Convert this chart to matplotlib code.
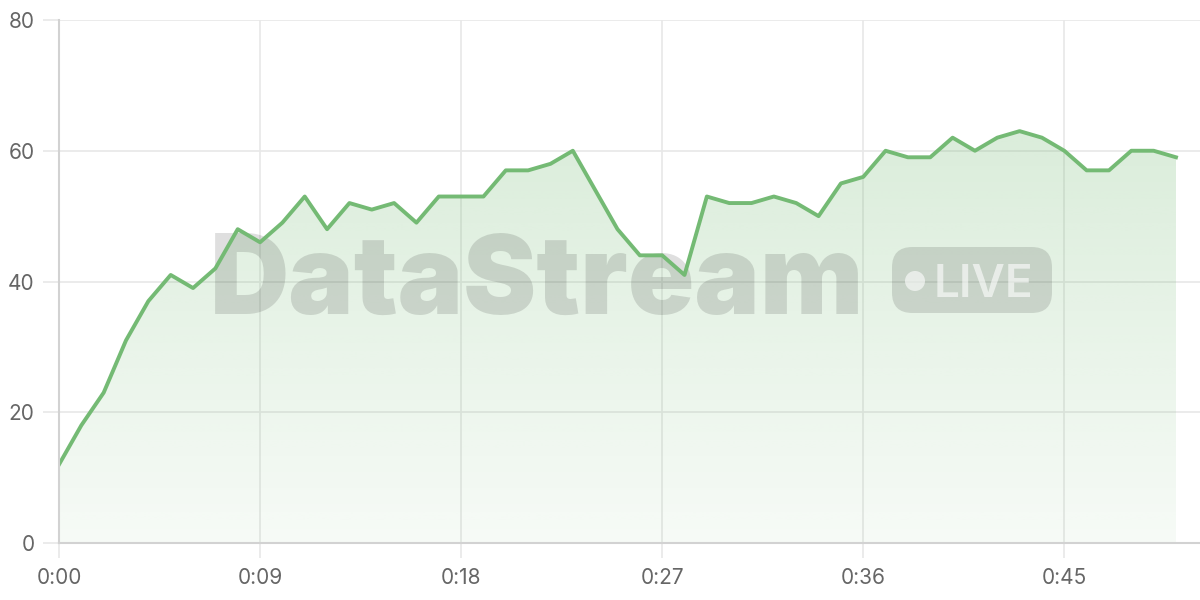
import matplotlib.pyplot as plt
import numpy as np
from matplotlib.patches import FancyBboxPatch, Circle

# seconds since start and the streamed value
seconds = list(range(51))
values = [12, 18, 23, 31, 37, 41, 39, 42, 48, 46, 49,
          53, 48, 52, 51, 52, 49, 53, 53, 53, 57,
          57, 58, 60, 54, 48, 44, 44, 41, 53, 52,
          52, 53, 52, 50, 55, 56, 60, 59, 59, 62,
          60, 62, 63, 62, 60, 57, 57, 60, 60, 59]
x_ticks = [0, 9, 18, 27, 36, 45]
y_ticks = [0, 20, 40, 60, 80]

LINE = "#74ba74"
W, H = 1200, 600


def fmt_time(s):
    return f"{s // 60}:{s % 60:02d}"


def main():
    plt.rcParams["font.family"] = ["Inter", "DejaVu Sans"]
    fig = plt.figure(figsize=(W / 100, H / 100), dpi=100)
    ax = fig.add_axes([59 / W, 57 / H, (W - 59) / W, (543 - 20) / H])

    x = np.array(seconds)
    y = np.array(values)
    ax.set_xlim(0, (W - 59) / (1117 / 50))
    ax.set_ylim(0, 80)

    # gradient fill under the line
    poly = ax.fill_between(x, y, 0, color="none", lw=0)
    top = y.max()
    ny = 256
    grad = np.zeros((ny, 2, 4))
    grad[..., :3] = np.array([114, 185, 114]) / 255
    grad[..., 3] = np.linspace(0.26, 0.06, ny)[:, None]
    im = ax.imshow(grad, extent=[x.min(), x.max(), 0, top], aspect="auto",
                   origin="upper", zorder=1, interpolation="bilinear")
    im.set_clip_path(poly.get_paths()[0], transform=ax.transData)

    ax.plot(x, y, color=LINE, lw=2.8, zorder=4)

    # grid / axes styling
    ax.set_xticks(x_ticks)
    ax.set_xticklabels([fmt_time(s) for s in x_ticks])
    ax.set_yticks(y_ticks)
    ax.grid(True, color="#e8e8e8", lw=1.2, zorder=0)
    ax.set_axisbelow(True)
    for side in ["top", "right"]:
        ax.spines[side].set_visible(False)
    for side in ["left", "bottom"]:
        ax.spines[side].set_color("#d2d2d2")
        ax.spines[side].set_linewidth(1.5)
        ax.spines[side].set_zorder(5)
    ax.tick_params(axis="y", length=11.5, width=1.2, color="#e8e8e8",
                   pad=6, labelsize=15, labelcolor="#666666")
    ax.tick_params(axis="x", length=11, width=1.2, color="#e8e8e8",
                   pad=7, labelsize=15, labelcolor="#666666")

    # watermark, drawn between the fill and the line
    tf = fig.transFigure
    ax.text(210 / W, 1 - 314 / H, "DataStream", transform=tf, fontsize=79,
            fontweight=900, color="black", alpha=0.125,
            ha="left", va="baseline", zorder=3, clip_on=False)
    pill = FancyBboxPatch((892 / W, 1 - 313 / H), 160 / W, 66 / H,
                          boxstyle="round,pad=0,rounding_size=0.017",
                          transform=tf, facecolor="black", edgecolor="none",
                          alpha=0.125, zorder=3, mutation_aspect=2,
                          clip_on=False)
    ax.add_artist(pill)
    dot = Circle((9.15, (H - 281) / 100), 0.10,
                 facecolor="white", edgecolor="none", alpha=0.6, zorder=3.5,
                 clip_on=False)
    ax.add_artist(dot)
    dot.set_transform(fig.dpi_scale_trans)
    ax.text(934 / W, 1 - 297 / H, "LIVE", transform=tf, fontsize=33,
            fontweight="semibold", color="white", alpha=0.6,
            ha="left", va="baseline", zorder=3.5, clip_on=False)

    fig.savefig("out.png", dpi=100)
    plt.close(fig)


if __name__ == "__main__":
    main()
